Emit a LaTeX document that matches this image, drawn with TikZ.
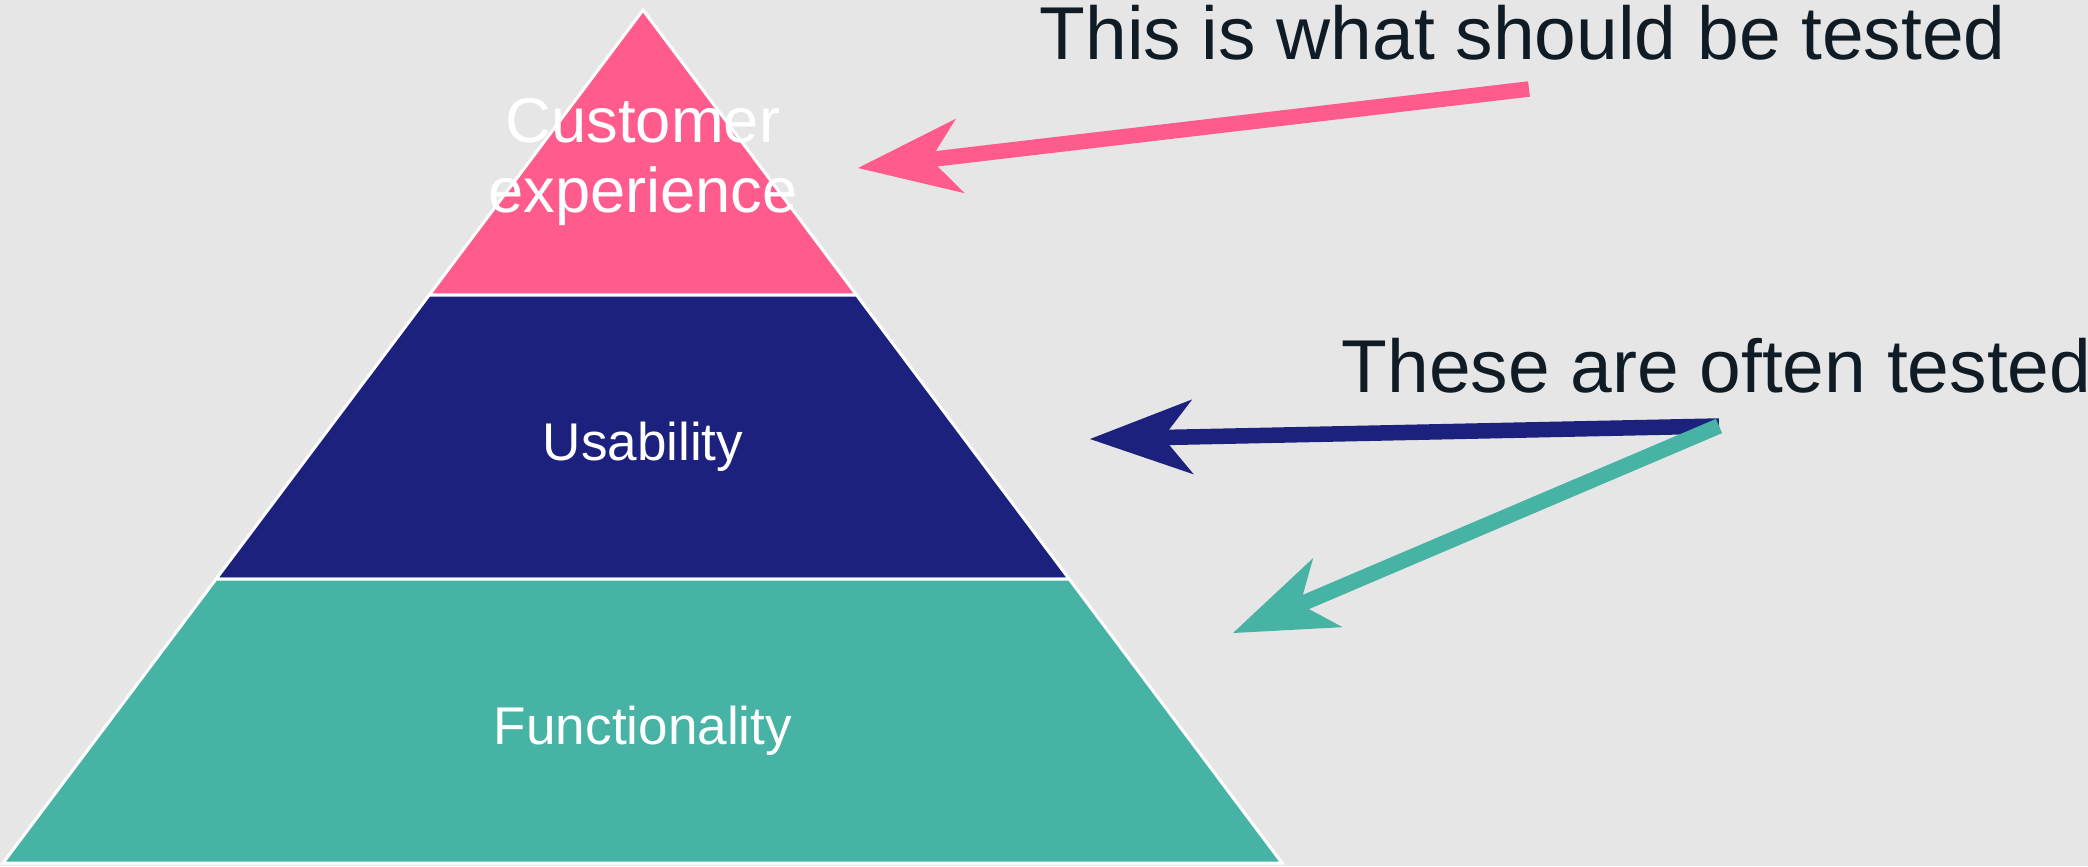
\documentclass[tikz,border=0pt]{standalone}
\usepackage{fontspec}
\setmainfont{Liberation Sans}
\usetikzlibrary{arrows.meta}

\definecolor{topcol}{RGB}{255,92,141}
\definecolor{midcol}{RGB}{27,33,125}
\definecolor{lowcol}{RGB}{71,179,165}
\definecolor{backcol}{RGB}{230,230,230}
\definecolor{inkcol}{RGB}{15,28,38}

\tikzset{
  layer/.style={draw=white, line width=0.03cm, line join=miter},
  tag/.style={text=white, inner sep=0pt},
  remark/.style={text=inkcol, inner sep=0pt, anchor=base west,
    font=\fontsize{21.3}{25}\selectfont},
  pointer/.style={line width=0.155cm,
    -{Stealth[length=1.03cm, width=0.75cm, inset=0.3cm, line width=0pt]}},
}

\begin{document}
\begin{tikzpicture}[x=0.01cm, y=-0.01cm]
    % Background
    \fill[backcol] (0,0) rectangle (2088,866);
    \useasboundingbox (0,0) rectangle (2088,866);
    % Corners of the pyramid
    \coordinate (apex) at (643,10);
    \coordinate (al) at (429.2,295);
    \coordinate (ar) at (856.5,295);
    \coordinate (bl) at (216.1,579);
    \coordinate (br) at (1069.2,579);
    \coordinate (cl) at (3,863);
    \coordinate (cr) at (1282,863);
    % Draw the three layers
    \filldraw[layer, fill=topcol] (apex) -- (ar) -- (al) -- cycle;
    \filldraw[layer, fill=midcol] (al) -- (ar) -- (br) -- (bl) -- cycle;
    \filldraw[layer, fill=lowcol] (bl) -- (br) -- (cr) -- (cl) -- cycle;
    % Layer names
    \node[tag, align=center, font=\fontsize{18}{19.9}\selectfont] (custexp) at (643,162) {Customer\\experience};
    \node[tag, anchor=base, font=\fontsize{15.1}{18}\selectfont] (usab) at (643,460) {Usability};
    \node[tag, anchor=base, font=\fontsize{15.1}{18}\selectfont] (func) at (643,744) {Functionality};
    % Remarks on the right
    \node[remark] (should) at (1039,59) {This is what should be tested};
    \node[remark] (often) at (1341,392) {These are often tested};
    % Ends of the pointers
    \coordinate (shouldstart) at (1529,89);
    \coordinate (shouldtip) at (858,168);
    \coordinate (oftenstart) at (1719,426);
    \coordinate (usabtip) at (1090,439);
    \coordinate (functip) at (1233,633);
    % Draw the pointers
    \draw[pointer, topcol] (shouldstart) -- (shouldtip);
    \draw[pointer, midcol] (oftenstart) -- (usabtip);
    \draw[pointer, lowcol] (oftenstart) -- (functip);
\end{tikzpicture}
\end{document}
